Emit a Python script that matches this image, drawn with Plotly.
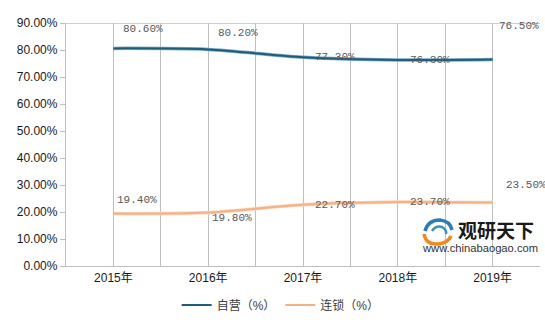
import plotly.graph_objects as go

# Chart data
years = ["2015年", "2016年", "2017年", "2018年", "2019年"]
self_run = [80.60, 80.20, 77.30, 76.30, 76.50]   # 自营（%）
chain = [19.40, 19.80, 22.70, 23.70, 23.50]      # 连锁（%）
series_names = ["自营（%）", "连锁（%）"]

# Label offsets (pixels) for each data label: (xshift, yshift)
self_offsets = [(8, 19), (8, 16), (10, 0), (10, 0), (4, 33)]
chain_offsets = [(2, 14), (2, -5), (10, 0), (10, 0), (11, 18)]

W, H = 545, 322
ML, MR, MT, MB = 66, 5, 23, 56


def px(x):
    """Horizontal pixel -> paper coordinate."""
    return (x - ML) / (W - ML - MR)


def py(y):
    """Vertical pixel (from top) -> paper coordinate."""
    return (H - MB - y) / (H - MT - MB)


xs = list(range(len(years)))
dark_blue = "#1f5d7e"
light_blue = "#7aaac3"
orange = "#f5b184"
light_orange = "#fbd3b6"
grid_col = "#bfbfbf"
label_font = dict(family="Liberation Mono, DejaVu Sans Mono", size=11, color="#595959")
cjk = "Liberation Sans, Noto Sans CJK SC, Arial"

fig = go.Figure()

# soft under-stroke for a slight 3D look, then the main line
fig.add_trace(go.Scatter(x=xs, y=[v / 100 for v in self_run], mode="lines",
                         line=dict(color=light_blue, width=3.5, shape="spline", smoothing=0.8),
                         showlegend=False, hoverinfo="skip"))
fig.add_trace(go.Scatter(x=xs, y=[v / 100 for v in self_run], mode="lines", name=series_names[0],
                         line=dict(color=dark_blue, width=2, shape="spline", smoothing=0.8)))
fig.add_trace(go.Scatter(x=xs, y=[v / 100 for v in chain], mode="lines",
                         line=dict(color=light_orange, width=3.5, shape="spline", smoothing=0.8),
                         showlegend=False, hoverinfo="skip"))
fig.add_trace(go.Scatter(x=xs, y=[v / 100 for v in chain], mode="lines", name=series_names[1],
                         line=dict(color=orange, width=2, shape="spline", smoothing=0.8)))

annotations = []
for vals, offs in ((self_run, self_offsets), (chain, chain_offsets)):
    for i, (v, (dx, dy)) in enumerate(zip(vals, offs)):
        annotations.append(dict(x=i, y=v / 100, xref="x", yref="y", text=f"{v:.2f}%",
                                showarrow=False, xanchor="left", yanchor="middle",
                                xshift=dx, yshift=dy, font=label_font))

# Watermark text
annotations.append(dict(x=px(456), y=py(229), xref="paper", yref="paper", text="<b>观研天下</b>",
                        showarrow=False, xanchor="left", yanchor="middle",
                        font=dict(family="Noto Sans CJK SC", size=19, color="#1a1a1a")))
annotations.append(dict(x=px(420), y=py(248), xref="paper", yref="paper", text="www.chinabaogao.com",
                        showarrow=False, xanchor="left", yanchor="middle",
                        font=dict(family="Liberation Sans, Arial", size=11.2, color="#333333")))


def logo_path(points):
    (x0, y0), (cx1, cy1), (x1, y1), (cx2, cy2), (x2, y2) = points
    return (f"M {px(x0)} {py(y0)} Q {px(cx1)} {py(cy1)} {px(x1)} {py(y1)} "
            f"Q {px(cx2)} {py(cy2)} {px(x2)} {py(y2)}")


tickvals = [i / 2 - 0.5 for i in range(2 * len(years) + 1)]
ticktext = [years[int(t)] if t == int(t) and t >= 0 else "" for t in tickvals]

fig.update_layout(
    width=W, height=H,
    margin=dict(l=ML, r=MR, t=MT, b=MB),
    paper_bgcolor="white", plot_bgcolor="white",
    font=dict(family=cjk, size=12, color="#1a1a1a"),
    xaxis=dict(range=[-0.5, 4.5], tickvals=tickvals, ticktext=ticktext,
               showgrid=True, gridcolor=grid_col, gridwidth=1.3, zeroline=False,
               showline=True, linecolor=grid_col, linewidth=1.3, ticks="",
               tickfont=dict(family=cjk, size=12, color="#1a1a1a")),
    yaxis=dict(range=[0, 0.9], dtick=0.1, tickformat=".2%", showgrid=False, zeroline=False,
               showline=True, linecolor=grid_col, linewidth=1.3, ticks="outside",
               ticklen=5, tickcolor=grid_col,
               tickfont=dict(family="Liberation Sans, Arial", size=12, color="#1a1a1a")),
    legend=dict(orientation="h", xref="container", yref="container", x=0.515, y=0.053,
                xanchor="center", yanchor="middle",
                font=dict(family=cjk, size=12, color="#404040"), itemwidth=30,
                tracegroupgap=0),
    annotations=annotations,
    shapes=[
        # top border line at the axis maximum
        dict(type="line", xref="paper", yref="y", x0=0, x1=1, y0=0.9, y1=0.9,
             line=dict(color=grid_col, width=1.3)),
        # logo swirl: blue upper arcs, orange lower arc
        dict(type="path", xref="paper", yref="paper", layer="above",
             path=logo_path([(425, 231), (428, 220), (440, 220), (450, 221), (452, 230)]),
             line=dict(color="#2a7db5", width=3.5)),
        dict(type="path", xref="paper", yref="paper", layer="above",
             path=logo_path([(432, 231), (436, 225), (442, 227), (447, 230), (446, 234)]),
             line=dict(color="#3a8fc6", width=2.5)),
        dict(type="path", xref="paper", yref="paper", layer="above",
             path=logo_path([(424, 234), (426, 245), (438, 244), (448, 243), (451, 236)]),
             line=dict(color="#f08a1c", width=3.5)),
    ],
)

fig.write_html("out.html")
